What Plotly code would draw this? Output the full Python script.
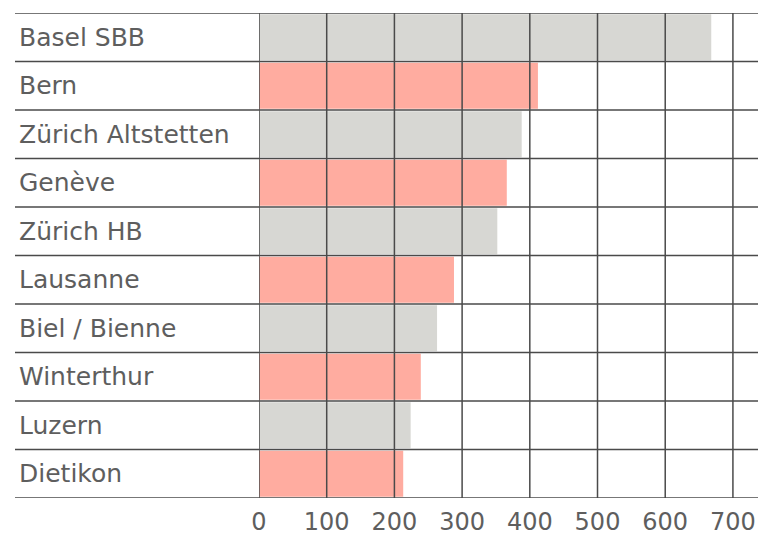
import plotly.graph_objects as go

stations = ["Basel SBB", "Bern", "Zürich Altstetten", "Genève", "Zürich HB",
            "Lausanne", "Biel / Bienne", "Winterthur", "Luzern", "Dietikon"]
values = [668, 412, 388, 366, 352, 288, 263, 239, 224, 213]
tick_vals = [0, 100, 200, 300, 400, 500, 600, 700]

GRAY = "#d7d7d3"
PINK = "#ffaca0"
LINE = "#4a4a4a"
TEXT = "#5e5e5e"
FONT = "DejaVu Sans, Verdana, sans-serif"

colors = [GRAY if i % 2 == 0 else PINK for i in range(len(stations))]

fig = go.Figure(go.Bar(
    x=values, y=stations, orientation="h",
    marker=dict(color=colors, line=dict(width=0)),
    hoverinfo="skip",
))

# the page body has an 8px margin, so the figure is sized to fill the rest of the window
W, H = 758, 527
ml, mr, mt, mb = 251, 6, 5, 37
plot_w = W - ml - mr
xmax = 740

shapes = []
for v in tick_vals:
    shapes.append(dict(type="line", xref="x", yref="paper", x0=v, x1=v, y0=0, y1=1,
                       line=dict(color=LINE, width=1.5), layer="above"))
left_paper = (7 - ml) / plot_w
n = len(stations)
for k in range(n + 1):
    yv = k - 0.5
    shapes.append(dict(type="line", xref="paper", yref="y", x0=left_paper, x1=1,
                       y0=yv, y1=yv, line=dict(color=LINE, width=1.5), layer="above"))

annotations = []
for s in stations:
    annotations.append(dict(text=s, xref="paper", yref="y", x=(9 - ml) / plot_w, y=s,
                            xanchor="left", yanchor="middle", showarrow=False,
                            font=dict(family=FONT, size=25, color=TEXT)))

fig.update_layout(
    width=W, height=H,
    margin=dict(l=ml, r=mr, t=mt, b=mb, autoexpand=False),
    paper_bgcolor="white", plot_bgcolor="white",
    bargap=0.05,
    showlegend=False,
    shapes=shapes,
    annotations=annotations,
    xaxis=dict(range=[0, xmax], tickvals=tick_vals, ticktext=[str(v) for v in tick_vals],
               showgrid=False, zeroline=False, showline=False, ticks="",
               automargin=False, ticklabelstandoff=7,
               tickfont=dict(family=FONT, size=24, color=TEXT)),
    yaxis=dict(categoryorder="array", categoryarray=stations, automargin=False,
               range=[n - 0.5, -0.5], showticklabels=False, showgrid=False,
               zeroline=False, showline=False, ticks=""),
)

fig.write_html("out.html")
